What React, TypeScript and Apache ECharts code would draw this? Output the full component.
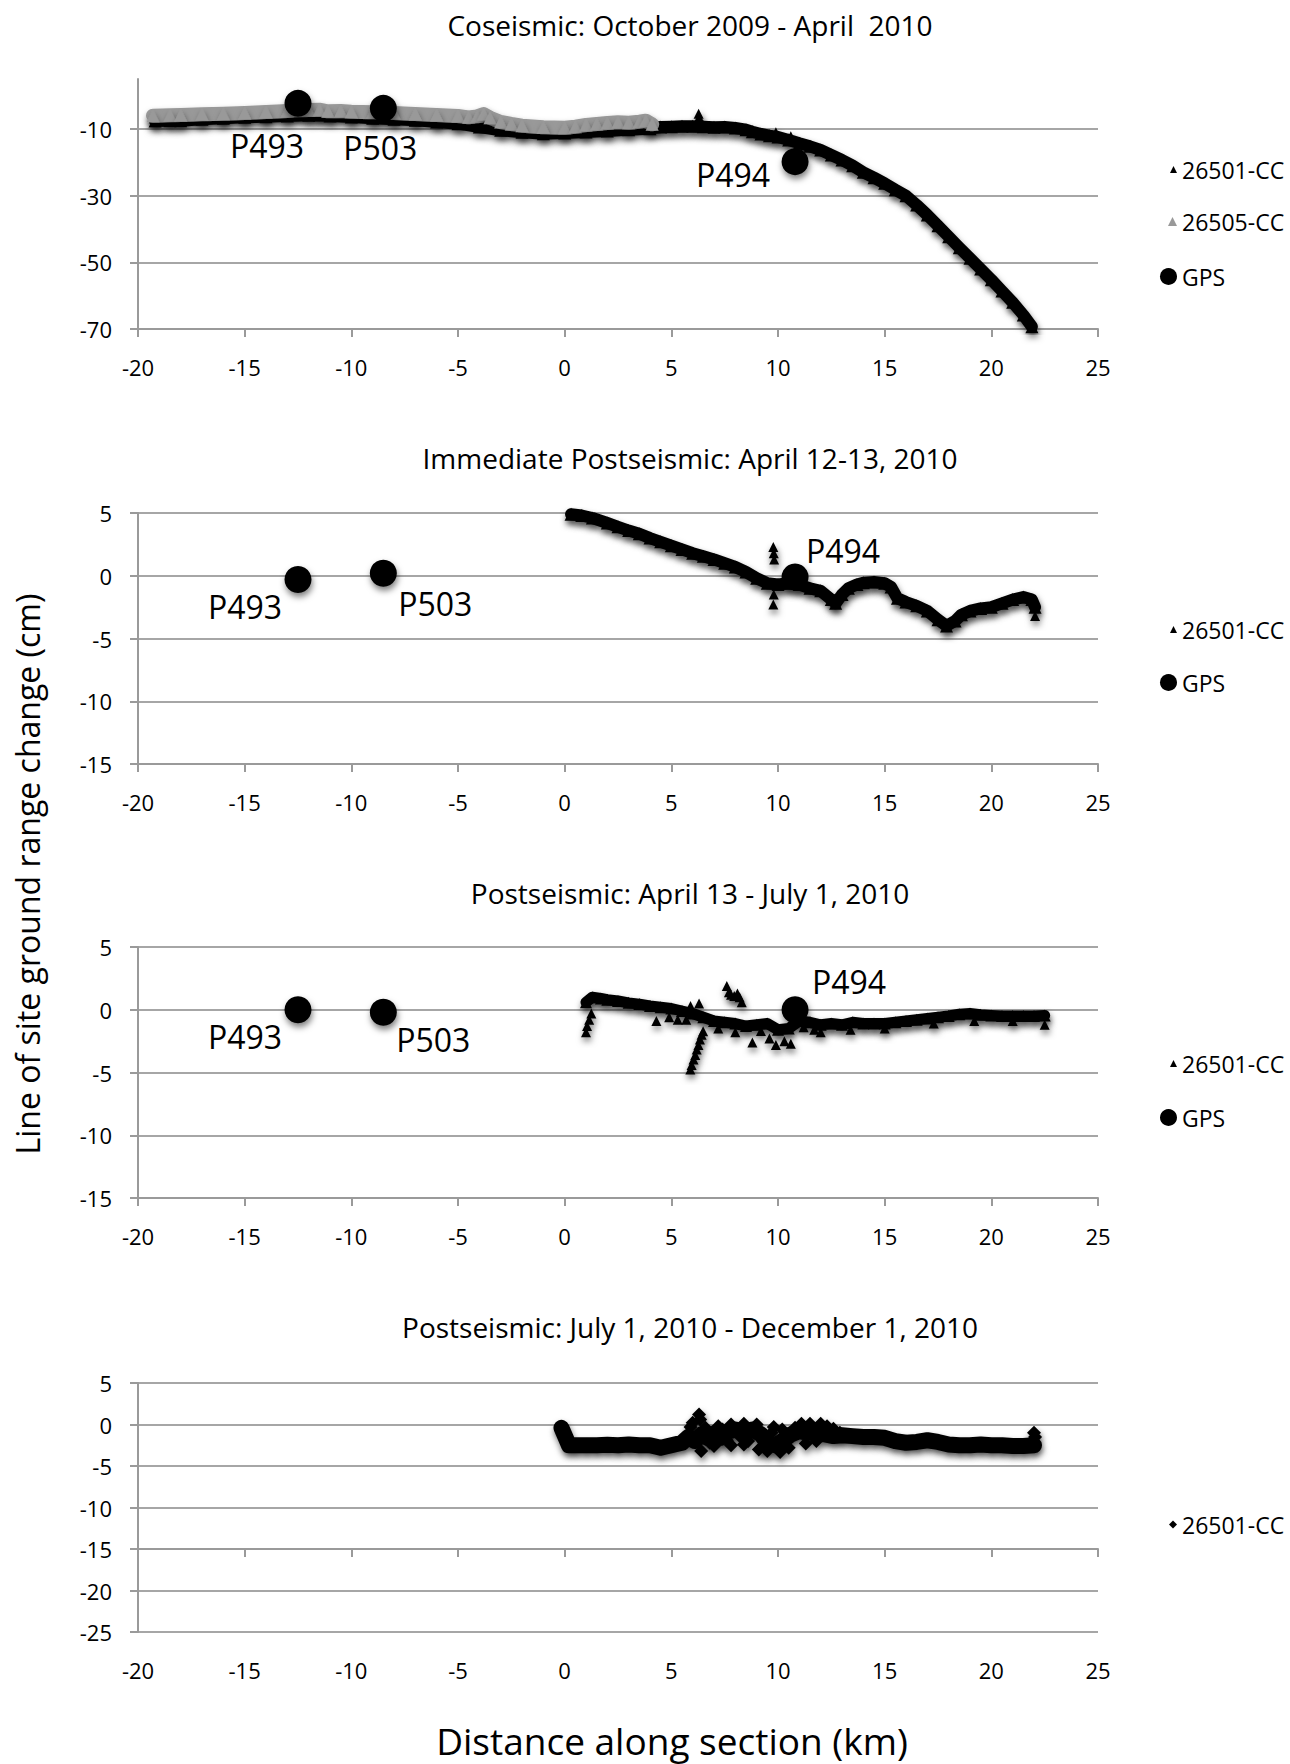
import React, { useEffect, useRef } from "react";
import * as echarts from "echarts";

// ---------- data ----------
const xTickValues = [-20, -15, -10, -5, 0, 5, 10, 15, 20, 25];
const coseismicYTicks = [-70, -50, -30, -10];

// Coseismic: October 2009 - April 2010
const coseismic26501: number[][] = [
  [-19.2, -7.6], [-18.5, -7.5], [-18, -7.5], [-17, -7.1], [-16, -6.8], [-15, -6.5], [-14, -6.3],
  [-13, -6.1], [-12, -5.9], [-11.5, -5.8], [-11, -6.1], [-10, -6.4], [-9, -6.8], [-8, -7.1],
  [-7, -7.4], [-6, -7.9], [-5, -8.4], [-4, -9.4], [-3, -10.4], [-2, -11.0], [-1, -11.4], [0, -11.2],
  [1, -10.9], [2, -10.6], [3, -10.2], [4, -9.9], [4.5, -9.4], [5, -9.3], [5.5, -9.2], [6, -9.2],
  [6.5, -9.3], [7, -9.5], [7.5, -9.4], [8, -9.7], [8.5, -10.2], [8.8, -10.8], [9.2, -11.5],
  [9.6, -12.0], [10, -12.4], [10.5, -13.3], [11, -14.3], [11.5, -15.2], [12, -16.3], [12.5, -17.8],
  [13, -19.3], [13.5, -21.0], [14, -23.0], [14.5, -24.6], [15, -26.3], [15.5, -28.2], [16, -30.0],
  [16.5, -32.8], [17, -35.8], [17.5, -39.0], [18, -42.3], [18.5, -45.6], [19, -48.8], [19.5, -52.0],
  [20, -55.2], [20.5, -58.6], [21, -62.0], [21.5, -65.8], [21.9, -69.3],
];
const coseismic26501Outliers: number[][] = [[6.28, -5.4], [6.3, -6.5], [6.32, -7.6], [9.9, -11.0], [10.6, -12.2]];
const coseismic26505: number[][] = [
  [-19.3, -6.0], [-18.5, -5.9], [-18, -5.8], [-17, -5.6], [-16, -5.4], [-15, -5.2], [-14, -4.9],
  [-13, -4.6], [-12.5, -4.4], [-12, -4.3], [-11.5, -4.2], [-11.1, -4.7], [-10.5, -4.6], [-10, -4.8],
  [-9, -5.0], [-8, -5.2], [-7, -5.5], [-6, -5.8], [-5, -6.1], [-4.5, -6.5], [-4.1, -6.2], [-3.8, -5.5],
  [-3.5, -6.6], [-3, -7.9], [-2.5, -8.5], [-2, -9.0], [-1, -9.5], [0, -9.6], [0.5, -9.3], [1, -8.8],
  [1.5, -8.5], [2, -8.2], [2.5, -8.0], [3, -8.1], [3.5, -7.8], [3.8, -7.5], [4.1, -8.6],
];

// Immediate Postseismic: April 12-13, 2010
const immediate26501: number[][] = [
  [0.3, 4.9], [0.8, 4.8], [1.3, 4.6], [2, 4.2], [2.5, 3.9], [3, 3.6], [3.5, 3.35], [4, 3.0],
  [4.5, 2.7], [5, 2.4], [5.5, 2.1], [6, 1.8], [6.5, 1.55], [7, 1.3], [7.5, 1.0], [8, 0.7], [8.5, 0.3],
  [9, -0.2], [9.5, -0.6], [10, -0.7], [10.5, -0.6], [11, -0.7], [11.5, -1.0], [12, -1.2], [12.5, -1.9],
  [12.7, -2.2], [13, -1.5], [13.3, -1.0], [13.7, -0.7], [14, -0.55], [14.5, -0.5], [15, -0.6],
  [15.3, -0.9], [15.6, -1.8], [16, -2.1], [16.5, -2.4], [17, -2.8], [17.5, -3.5], [17.9, -4.0],
  [18.3, -3.6], [18.6, -3.1], [19, -2.8], [19.5, -2.6], [20, -2.5], [20.5, -2.2], [21, -1.9],
  [21.5, -1.7], [21.9, -1.9], [22.05, -2.5],
];
const immediate26501Outliers: number[][] = [
  [9.78, 2.3], [9.8, 1.8], [9.82, 1.3], [9.8, -1.5], [9.78, -2.3], [22.05, -3.2],
];

// Postseismic: April 13 - July 1, 2010
const april26501: number[][] = [
  [1.0, 0.6], [1.3, 1.0], [1.7, 0.9], [2, 0.8], [2.5, 0.7], [3, 0.55], [3.5, 0.45], [4, 0.3],
  [4.5, 0.2], [5, 0.1], [5.5, -0.1], [6, -0.3], [6.5, -0.6], [7, -0.9], [7.5, -1.0], [8, -1.1],
  [8.5, -1.3], [9, -1.2], [9.5, -1.1], [10, -1.6], [10.5, -1.5], [11, -0.9], [11.5, -1.0], [12, -1.2],
  [12.5, -1.1], [13, -1.2], [13.5, -1.0], [14, -1.1], [14.5, -1.1], [15, -1.1], [15.5, -1.0],
  [16, -0.9], [16.5, -0.8], [17, -0.7], [17.5, -0.6], [18, -0.5], [18.5, -0.35], [19, -0.3],
  [19.5, -0.4], [20, -0.45], [20.5, -0.5], [21, -0.5], [21.5, -0.5], [22, -0.5], [22.5, -0.45],
];
const april26501Outliers: number[][] = [
  [1.0, -1.8], [1.05, -1.3], [1.15, -0.8], [1.25, -0.3],
  [5.89, -4.76], [5.95, -4.4], [6.04, -3.97], [6.12, -3.6], [6.19, -3.17], [6.27, -2.8], [6.34, -2.38],
  [6.42, -2.0], [6.49, -1.72],
  [7.6, 1.9], [7.7, 1.4], [7.8, 1.2], [7.95, 1.1], [8.1, 1.3], [8.2, 1.0], [8.3, 0.6],
  [4.3, -0.9], [4.9, -0.6], [5.3, -0.8], [5.7, -0.8], [5.9, 0.3], [6.3, 0.5],
  [8.8, -2.6], [9.6, -2.3], [9.9, -2.8], [10.3, -2.5], [10.6, -2.7], [11.7, -1.6], [12.0, -1.8],
  [7.2, -1.5], [8.0, -1.8], [9.2, -1.7], [11.2, -1.4], [13.4, -1.6], [15.0, -1.5], [17.3, -1.1],
  [19.2, -0.9], [21.0, -0.9], [22.5, -1.2],
];

// Postseismic: July 1, 2010 - December 1, 2010
const july26501: number[][] = [
  [-0.15, -0.4], [0.2, -2.5], [0.5, -2.5], [1, -2.5], [1.5, -2.5], [2, -2.45], [2.5, -2.5], [3, -2.4],
  [3.5, -2.5], [4, -2.5], [4.5, -2.8], [5, -2.5], [5.5, -2.2], [5.8, -1.5], [6.1, -2.0], [6.4, -1.2],
  [6.7, -1.6], [7, -1.1], [7.3, -1.6], [7.6, -0.9], [8, -0.6], [8.4, -0.8], [8.8, -0.6], [9.2, -1.2],
  [9.5, -2.2], [9.9, -2.5], [10.3, -1.8], [10.6, -1.2], [11, -0.8], [11.4, -1.0], [11.8, -0.7],
  [12.2, -1.2], [12.6, -1.4], [13, -1.3], [13.5, -1.4], [14, -1.5], [14.5, -1.5], [15, -1.6],
  [15.5, -2.0], [16, -2.2], [16.5, -2.1], [17, -1.9], [17.5, -2.1], [18, -2.4], [18.5, -2.5],
  [19, -2.5], [19.5, -2.4], [20, -2.5], [20.5, -2.5], [21, -2.6], [21.5, -2.6], [22, -2.5],
];
const july26501Outliers: number[][] = [
  [6.3, 1.2], [6.35, 0.6], [6.0, 0.2], [5.9, -0.3], [6.4, -3.2], [7.2, -0.2], [7.8, 0.0], [8.4, 0.1],
  [9.0, 0.0], [9.1, -3.0], [9.5, -3.2], [10.1, -3.3], [11.1, 0.1], [11.5, 0.1], [12.0, 0.1],
  [12.3, -0.2], [7.0, -2.6], [7.8, -2.5], [8.6, -2.0], [9.8, -0.3], [6.6, -0.4], [7.4, -0.6],
  [8.2, -1.4], [10.5, -2.8], [10.8, -0.4], [11.8, -2.0], [12.6, -0.5], [6.8, -2.2], [7.6, -1.9],
  [8.4, -2.4], [9.3, -2.6], [9.7, -1.0], [10.2, -0.6], [11.3, -2.3], [12.9, -1.0], [22.0, -1.0], [22.05, -1.5],
];

// GPS stations
const gpsNames = ["P493", "P503", "P494"];
const gpsDistance = [-12.5, -8.5, 10.8];
const gpsCoseismic = [-2.3, -3.8, -19.8];
const gpsImmediate = [-0.3, 0.2, -0.1];
const gpsApril = [0.0, -0.2, 0.0];

// ---------- layout / style ----------
const W = 1290;
const H = 1764;
const FONT = "Open Sans";
const AXIS_COLOR = "#9a9a9a";
const GRID_COLOR = "#a6a6a6";
const SHADOW = {
  shadowColor: "rgba(0,0,0,0.5)",
  shadowBlur: 6,
  shadowOffsetX: 1,
  shadowOffsetY: 4,
};

const panels = [
  { top: 79, height: 250, min: -70, max: 5, interval: 20, title: "Coseismic: October 2009 - April  2010", titleY: 25 },
  { top: 513, height: 251, min: -15, max: 5, interval: 5, title: "Immediate Postseismic: April 12-13, 2010", titleY: 458 },
  { top: 947, height: 251, min: -15, max: 5, interval: 5, title: "Postseismic: April 13 - July 1, 2010", titleY: 893 },
  { top: 1383, height: 249, min: -25, max: 5, interval: 5, title: "Postseismic: July 1, 2010 - December 1, 2010", titleY: 1327 },
];
const gridLeft = 138;
const gridWidth = 960;

const labelOffsets = [
  [[-31, 42], [-3, 39], [-62, 13]],
  [[-53, 27], [52, 30], [48, -27]],
  [[-53, 27], [50, 27], [54, -28]],
];

const legendItems = [
  { name: "26501-CC", icon: "triangle", size: 7, cy: 170 },
  { name: "26505-CC", icon: "triangle", size: 9, cy: 222 },
  { name: "GPS", icon: "circle", size: 17, cy: 277 },
  { name: "26501-CC", icon: "triangle", size: 7, cy: 630 },
  { name: "GPS", icon: "circle", size: 17, cy: 683 },
  { name: "26501-CC", icon: "triangle", size: 7, cy: 1064 },
  { name: "GPS", icon: "circle", size: 17, cy: 1118 },
  { name: "26501-CC", icon: "diamond", size: 8, cy: 1525 },
];

function bandSeries(
  name: string,
  idx: number,
  data: number[][],
  color: string,
  width: number,
  symbol: string,
  symbolSize: number,
  z: number
) {
  return {
    name,
    type: "line",
    xAxisIndex: idx,
    yAxisIndex: idx,
    data,
    symbol,
    symbolSize,
    showSymbol: true,
    showAllSymbol: true,
    silent: true,
    z,
    itemStyle: { color, opacity: 1, ...SHADOW },
    lineStyle: { color, width, opacity: 1, join: "round", cap: "round", ...SHADOW },
    emphasis: { disabled: true },
  };
}

function scatterSeries(name: string, idx: number, data: number[][], color: string, symbol: string, size: number, z: number) {
  return {
    name,
    type: "scatter",
    xAxisIndex: idx,
    yAxisIndex: idx,
    data,
    symbol,
    symbolSize: size,
    silent: true,
    z,
    itemStyle: { color, opacity: 1, ...SHADOW },
    emphasis: { disabled: true },
  };
}

function gpsSeries(idx: number, values: number[]) {
  return {
    name: "GPS",
    type: "scatter",
    xAxisIndex: idx,
    yAxisIndex: idx,
    symbol: "circle",
    symbolSize: 27,
    silent: true,
    z: 6,
    itemStyle: { color: "#000", opacity: 1, ...SHADOW },
    data: gpsNames.map((n, i) => ({
      name: n,
      value: [gpsDistance[i], values[i]],
      label: {
        show: true,
        position: "inside",
        formatter: n,
        offset: labelOffsets[idx][i],
        color: "#000",
        fontSize: 32,
        fontFamily: FONT,
      },
    })),
    emphasis: { disabled: true },
  };
}

function buildOption() {
  const grid = panels.map((p) => ({
    left: gridLeft,
    top: p.top,
    width: gridWidth,
    height: p.height,
    outerBoundsMode: "none",
    containLabel: false,
  }));

  const xAxis: any[] = panels.map((p, i) => ({
    type: "value",
    gridIndex: i,
    min: -20,
    max: 25,
    interval: 5,
    axisLine: { show: i !== 3, onZero: false, lineStyle: { color: AXIS_COLOR, width: 2 } },
    axisTick: { show: i !== 3, length: 8, lineStyle: { color: AXIS_COLOR, width: 2 } },
    axisLabel: { margin: 27, fontSize: 22, color: "#000", fontFamily: FONT, customValues: xTickValues },
    splitLine: { show: false },
  }));
  // panel 4: horizontal axis crosses at -15 (ticks), labels stay at the bottom
  xAxis.push({
    type: "value",
    gridIndex: 3,
    position: "bottom",
    offset: -(panels[3].height * 10) / 30,
    min: -20,
    max: 25,
    interval: 5,
    axisLine: { show: true, onZero: false, lineStyle: { color: AXIS_COLOR, width: 2 } },
    axisTick: { show: true, length: 8, lineStyle: { color: AXIS_COLOR, width: 2 } },
    axisLabel: { show: false },
    splitLine: { show: false },
  });

  const yAxis = panels.map((p, i) => {
    const ax: any = {
      type: "value",
      gridIndex: i,
      min: p.min,
      max: p.max,
      interval: p.interval,
      axisLine: { show: true, onZero: false, lineStyle: { color: AXIS_COLOR, width: 2 } },
      axisTick: { show: true, length: 8, lineStyle: { color: AXIS_COLOR, width: 2 } },
      axisLabel: { margin: 26, fontSize: 22, color: "#000", fontFamily: FONT, showMinLabel: true },
      splitLine: { show: true, lineStyle: { color: GRID_COLOR, width: 2 } },
    };
    if (i === 0) {
      ax.axisTick.customValues = coseismicYTicks;
      ax.axisLabel.customValues = coseismicYTicks;
    }
    return ax;
  });

  const series: any[] = [
    bandSeries("26501-CC", 0, coseismic26501, "#000", 12, "triangle", 13, 2),
    scatterSeries("26501-CC", 0, coseismic26501Outliers, "#000", "triangle", 10, 2),
    bandSeries("26505-CC", 0, coseismic26505, "#999999", 14, "triangle", 13, 3),
    gpsSeries(0, gpsCoseismic),

    bandSeries("26501-CC", 1, immediate26501, "#000", 12, "triangle", 13, 2),
    scatterSeries("26501-CC", 1, immediate26501Outliers, "#000", "triangle", 10, 2),
    gpsSeries(1, gpsImmediate),

    bandSeries("26501-CC", 2, april26501, "#000", 11, "triangle", 12, 2),
    scatterSeries("26501-CC", 2, april26501Outliers, "#000", "triangle", 10, 2),
    gpsSeries(2, gpsApril),

    bandSeries("26501-CC", 3, july26501, "#000", 16, "diamond", 14, 2),
    scatterSeries("26501-CC", 3, july26501Outliers, "#000", "diamond", 14, 2),
  ];

  const legend = legendItems.map((it) => ({
    orient: "vertical",
    left: 1177 - it.size,
    top: it.cy - 12,
    padding: 0,
    itemWidth: it.size,
    itemHeight: it.size,
    selectedMode: false,
    data: [
      {
        name: it.name,
        icon: it.icon,
        itemStyle: {
          color: it.name === "26505-CC" ? "#999999" : "#000",
          opacity: 1,
          shadowBlur: 0,
          shadowOffsetX: 0,
          shadowOffsetY: 0,
          shadowColor: "rgba(0,0,0,0)",
        },
      },
    ],
    textStyle: { fontSize: 23, fontFamily: FONT, color: "#000" },
  }));

  const graphic: any[] = panels.map((p) => ({
    type: "text",
    x: 690,
    y: p.titleY,
    silent: true,
    style: {
      text: p.title,
      fontSize: 28,
      fontFamily: FONT,
      fill: "#000",
      align: "center",
      verticalAlign: "middle",
    },
  }));
  graphic.push({
    type: "text",
    x: 27,
    y: 874,
    rotation: Math.PI / 2,
    silent: true,
    style: {
      text: "Line of site ground range change (cm)",
      fontSize: 32,
      fontFamily: FONT,
      fill: "#000",
      align: "center",
      verticalAlign: "middle",
    },
  });
  graphic.push({
    type: "text",
    x: 672,
    y: 1740,
    silent: true,
    style: {
      text: "Distance along section (km)",
      fontSize: 37,
      fontFamily: FONT,
      fill: "#000",
      align: "center",
      verticalAlign: "middle",
    },
  });

  return {
    animation: false,
    backgroundColor: "#ffffff",
    textStyle: { fontFamily: FONT },
    grid,
    xAxis,
    yAxis,
    legend,
    series,
    graphic,
  };
}

export default function App() {
  const ref = useRef<HTMLDivElement>(null);
  useEffect(() => {
    if (!ref.current) return;
    const chart = echarts.init(ref.current, undefined, { renderer: "svg", width: W, height: H });
    chart.setOption(buildOption() as any);
    return () => {
      chart.dispose();
    };
  }, []);
  return (
    <div
      ref={ref}
      style={{ position: "absolute", left: 0, top: 0, width: W, height: H, background: "#fff" }}
    />
  );
}
